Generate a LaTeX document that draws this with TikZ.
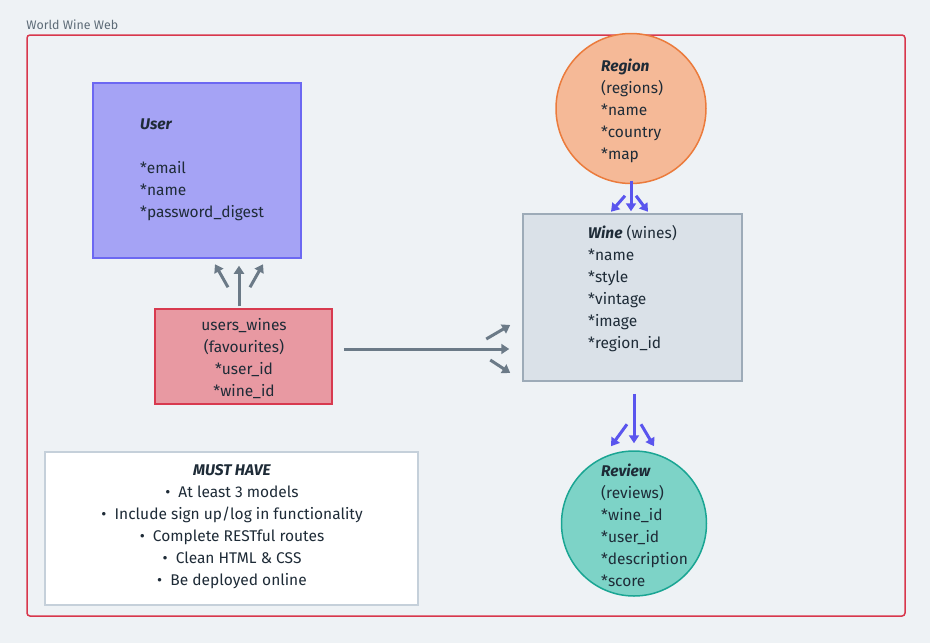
\documentclass[tikz,border=0pt]{standalone}
\usepackage{fontspec}
\setmainfont{Fira Sans}
\usetikzlibrary{arrows.meta}
\definecolor{bg}{HTML}{EEF2F5}
\definecolor{framec}{HTML}{D8374C}
\definecolor{titlec}{HTML}{5D6B77}
\definecolor{txt}{HTML}{1E2B37}
\definecolor{userf}{HTML}{A5A3F5}
\definecolor{userd}{HTML}{6C68F2}
\definecolor{uwf}{HTML}{E899A2}
\definecolor{uwd}{HTML}{D83A4F}
\definecolor{winef}{HTML}{DAE1E8}
\definecolor{wined}{HTML}{9DABB8}
\definecolor{regf}{HTML}{F5B997}
\definecolor{regd}{HTML}{EB7B3C}
\definecolor{revf}{HTML}{7DD3C7}
\definecolor{revd}{HTML}{1AA593}
\definecolor{mhd}{HTML}{C5D0DA}
\definecolor{garrc}{HTML}{6B7A87}
\definecolor{barrc}{HTML}{5A55EE}
\tikzset{
  boxn/.style={rectangle, line width=1.5pt, inner sep=0pt},
  circn/.style={circle, line width=1.5pt, inner sep=0pt},
  txtn/.style={inner sep=0pt, text=txt, font=\fontsize{15.5}{22}\selectfont},
  garr/.style={draw=garrc, line width=3pt, -{Triangle[length=8pt,width=10pt]}},
  barr/.style={draw=barrc, line width=3pt, -{Triangle[length=8pt,width=10pt]}},
}
\begin{document}
\begin{tikzpicture}[x=1pt,y=-1pt]
\useasboundingbox (0,0) rectangle (930,643);
\fill[bg] (0,0) rectangle (930,643);

\node[boxn, draw=framec, rounded corners=3pt, minimum width=878pt, minimum height=581pt] (frame) at (466,325.5) {};
\node[anchor=south west, inner sep=0pt, text=titlec, font=\fontsize{12.4}{14}\selectfont] (title) at ([yshift=4pt]frame.north west) {World Wine Web};

\node[boxn, draw=userd, fill=userf, minimum width=208pt, minimum height=175pt] (user) at (197,170.5) {};
\node[txtn, anchor=west, align=left] (usert) at (140,169.5) {\textbf{\textit{User}}\\[0pt]\strut\\*email\\*name\\*password\_digest};

\node[boxn, draw=uwd, fill=uwf, minimum width=177pt, minimum height=95pt] (uw) at (243.5,356.5) {};
\node[txtn, align=center] (uwt) at (244,359) {users\_wines\\(favourites)\\*user\_id\\*wine\_id};

\node[boxn, draw=wined, fill=winef, minimum width=219pt, minimum height=167pt] (wine) at (632.5,297.5) {};
\node[txtn, anchor=west, align=left] (winet) at (588,288.5) {\textbf{\textit{Wine}} (wines)\\*name\\*style\\*vintage\\*image\\*region\_id};

\node[circn, draw=regd, fill=regf, minimum size=150pt] (region) at (631,108.5) {};
\node[txtn, anchor=west, align=left] (regiont) at (601,110.5) {\textbf{\textit{Region}}\\(regions)\\*name\\*country\\*map};

\node[circn, draw=revd, fill=revf, minimum size=145pt] (review) at (634,523.5) {};
\node[txtn, anchor=west, align=left] (reviewt) at (601,525.5) {\textbf{\textit{Review}}\\(reviews)\\*wine\_id\\*user\_id\\*description\\*score};

\node[boxn, draw=mhd, fill=white, minimum width=373pt, minimum height=153pt] (must) at (231.5,528.5) {};
\node[txtn, align=center] (mustt) at (232,527) {\textbf{\textit{MUST HAVE}}\\•\ \ At least 3 models\\•\ \ Include sign up/log in functionality\\•\ \ Complete RESTful routes\\•\ \ Clean HTML \& CSS\\•\ \ Be deployed online};

% users_wines -> User
\draw[garr, shorten >=7pt] ([xshift=-4.5pt,yshift=2pt]uw.north) -- ([xshift=-4.5pt]uw.north |- user.south);
\draw[garr] ([shift={(-15.5,-21)}]uw.north) -- ++(-13,-23);
\draw[garr] ([shift={(6.5,-21)}]uw.north) -- ++(13,-23);

% users_wines -> Wine
\coordinate (uwa) at ([shift={(11,-7.5)}]uw.east);
\draw[garr, shorten >=13pt] (uwa) -- (uwa -| wine.west);
\draw[garr] ([shift={(-36,41.5)}]wine.west) -- ++(24,-14);
\draw[garr] ([shift={(-32,62.5)}]wine.west) -- ++(20,13);

% Region -> Wine
\draw[barr, shorten >=2pt] ([yshift=3.5pt]region.south) -- (region.south |- wine.north);
\draw[barr] ([shift={(-6,11.5)}]region.south) -- ++(-14,16);
\draw[barr] ([shift={(5,11.5)}]region.south) -- ++(12,16);

% Wine -> Review
\draw[barr, shorten >=7pt] ([yshift=-12pt]wine.south -| review.north) -- (review.north);
\draw[barr] ([shift={(-7,-26)}]review.north) -- ++(-16,22);
\draw[barr] ([shift={(7,-26)}]review.north) -- ++(13,22);
\end{tikzpicture}
\end{document}
